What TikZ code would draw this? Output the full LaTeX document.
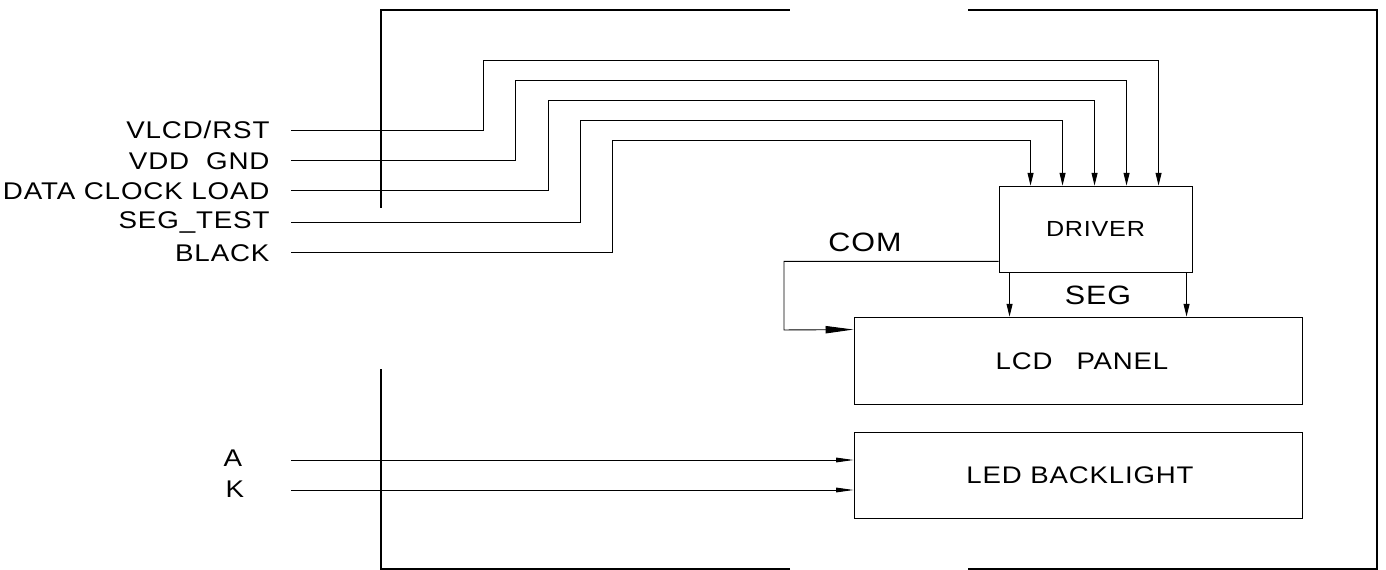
\documentclass[tikz,border=0pt]{standalone}
\usepackage{fontspec}
\setmainfont{Liberation Sans}[FakeStretch=1.15,LetterSpace=3.5]
\usetikzlibrary{arrows.meta,calc}

\begin{document}
\begin{tikzpicture}[x=0.75pt,y=-0.75pt,line width=0.7pt,
    lbl/.style={font=\fontsize{18.1}{20}\selectfont, inner sep=0pt},
    big/.style={font=\fontsize{19.9}{22}\selectfont, inner sep=0pt},
    blk/.style={draw, inner sep=0pt, font=\fontsize{18}{20}\selectfont},
    wire/.style={-{Triangle[length=9.5pt,width=4.5pt]}},
    feed/.style={-{Triangle[length=13pt,width=3.5pt]}},
    comwire/.style={-{Triangle[length=21pt,width=5.5pt]}},
    frame/.style={line width=0.8pt}]
      \useasboundingbox (0,0) rectangle (1386,570);
      % outer frame
      \draw[frame] (381,208) -- (381,10) -- (790,10);
      \draw[frame] (968,10) -- (1377,10) -- (1377,569) -- (968,569);
      \draw[frame] (790,569) -- (381,569) -- (381,369);
      % blocks
      \node[blk, minimum width=144.75pt, minimum height=64.5pt, font=\fontsize{16.4}{18}\selectfont] (drv) at (1095.5,229) {DRIVER};
      \node[blk, minimum width=336pt, minimum height=65.25pt] (lcd) at (1078,360.5) {};
      \node[blk, minimum width=336pt, minimum height=64.5pt] (led) at (1078,475) {};
      \node[font=\fontsize{18}{20}\selectfont, inner sep=0pt] (lcdtxt) at (1082,361) {LCD\hspace{1em}PANEL};
      \node[font=\fontsize{18}{20}\selectfont, inner sep=0pt] (ledtxt) at (1080,475) {LED BACKLIGHT};
      % input labels
      \node[lbl, anchor=east] (vlcd) at (270,130) {VLCD/RST};
      \node[lbl, anchor=east] (vdd) at (270,160.7) {VDD\hspace{0.7em}GND};
      \node[lbl, anchor=east] (data) at (270,190.7) {DATA CLOCK LOAD};
      \node[lbl, anchor=east] (segt) at (270,222) {SEG\_TEST};
      \node[lbl, anchor=east] (black) at (270,252.7) {BLACK};
      \coordinate (w1) at (291,130);
      \coordinate (w2) at (291,160.7);
      \coordinate (w3) at (291,190.7);
      \coordinate (w4) at (291,222);
      \coordinate (w5) at (291,252.7);
      \foreach \src/\bx/\ty/\off in {w1/483/60/160, w2/515/80/128, w3/548/100/96, w4/580/120/64, w5/612/140/32}
        \draw[wire] (\src) -| (\bx,\ty) -| ($(drv.north west)+(\off,0)$);
      % driver outputs
      \node[big] (com) at (865,242) {COM};
      \node[big] (seg) at (1098,295) {SEG};
      \coordinate (c0) at ($(drv.south west)+(0,-11)$);
      \draw[comwire] (c0) -| (784,330) -- ($(lcd.north west)+(0,13)$);
      \coordinate (s1) at ($(drv.south west)+(11,0)$);
      \coordinate (s2) at ($(drv.south west)+(188,0)$);
      \foreach \s in {s1,s2}
        \draw[wire] (\s) -- (\s |- lcd.north);
      % backlight supply
      \node[lbl] (la) at (233,458) {A};
      \node[lbl] (lk) at (235,489) {K};
      \coordinate (a0) at (291,460);
      \coordinate (k0) at (291,490);
      \foreach \s in {a0,k0}
        \draw[feed] (\s) -- (\s -| led.west);
\end{tikzpicture}
\end{document}
